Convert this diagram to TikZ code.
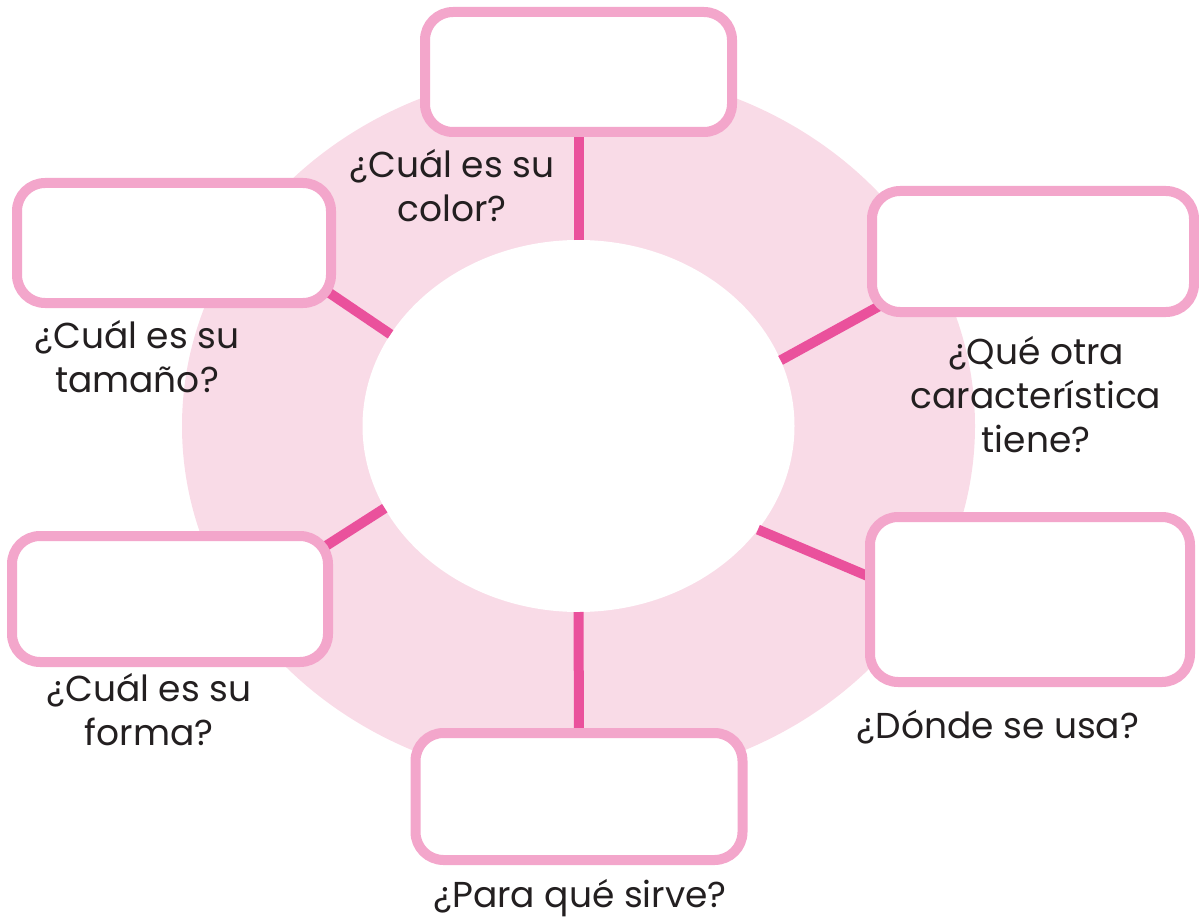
\documentclass[tikz,border=0pt]{standalone}
\usepackage{fontspec}
\setmainfont{Poppins}
\usetikzlibrary{shapes.geometric}
\definecolor{diskpink}{HTML}{F9DBE7}
\definecolor{boxpink}{HTML}{F3A6CB}
\definecolor{linepink}{HTML}{EA519C}
\definecolor{txt}{HTML}{231F20}
\pgfdeclarelayer{bg}
\pgfdeclarelayer{conn}
\pgfsetlayers{bg,conn,main}
\begin{document}
\begin{tikzpicture}[x=1pt,y=-1pt,
  answerbox/.style={draw=boxpink, line width=10pt, fill=white, rounded corners=28pt,
    rectangle, inner sep=0pt, outer sep=0pt},
  connector/.style={draw=linepink, line width=10pt, shorten >=-18pt},
  question/.style={text=txt, align=center, anchor=base,
    font=\fontsize{36}{44}\selectfont, inner sep=0pt}
]
\useasboundingbox (0,0) rectangle (1199,920);
\begin{pgfonlayer}{bg}
  \fill[diskpink] (578.5,426) ellipse [x radius=396.5, y radius=357];
  \node[ellipse, fill=white, minimum width=432pt, minimum height=372pt, inner sep=0pt, outer sep=0pt] (center) at (578.5,426) {};
\end{pgfonlayer}

\node[answerbox, minimum width=307pt, minimum height=120pt] (T)  at (578.5,72) {};
\node[answerbox, minimum width=314pt, minimum height=120pt] (LT) at (174,243) {};
\node[answerbox, minimum width=322pt, minimum height=121pt] (RT) at (1033,251.5) {};
\node[answerbox, minimum width=316pt, minimum height=126pt] (LB) at (170,599) {};
\node[answerbox, minimum width=320pt, minimum height=165pt] (RB) at (1030,599.5) {};
\node[answerbox, minimum width=327pt, minimum height=127pt] (B)  at (579,796.5) {};

\begin{pgfonlayer}{conn}
  \draw[connector] (center.90) -- (T.south);
  \draw[connector] (center.154.3) -- (LT.-18.3);
  \draw[connector] (center.18) -- (RT.200.9);
  \draw[connector] (center.203.4) -- (LB.19.2);
  \draw[connector] (center.330.6) -- (RB.172.2);
  \draw[connector] (center.270) -- (B.north);
\end{pgfonlayer}

\node[question] (qT)  at (452,222) {¿Cuál es su\\color?};
\node[question] (qLT) at (137,392) {¿Cuál es su\\tamaño?};
\node[question] (qRT) at (1036,452) {¿Qué otra\\característica\\tiene?};
\node[question] (qLB) at (149,745) {¿Cuál es su\\forma?};
\node[question] (qRB) at (998,738) {¿Dónde se usa?};
\node[question] (qB)  at (580,907) {¿Para qué sirve?};
\end{tikzpicture}
\end{document}
